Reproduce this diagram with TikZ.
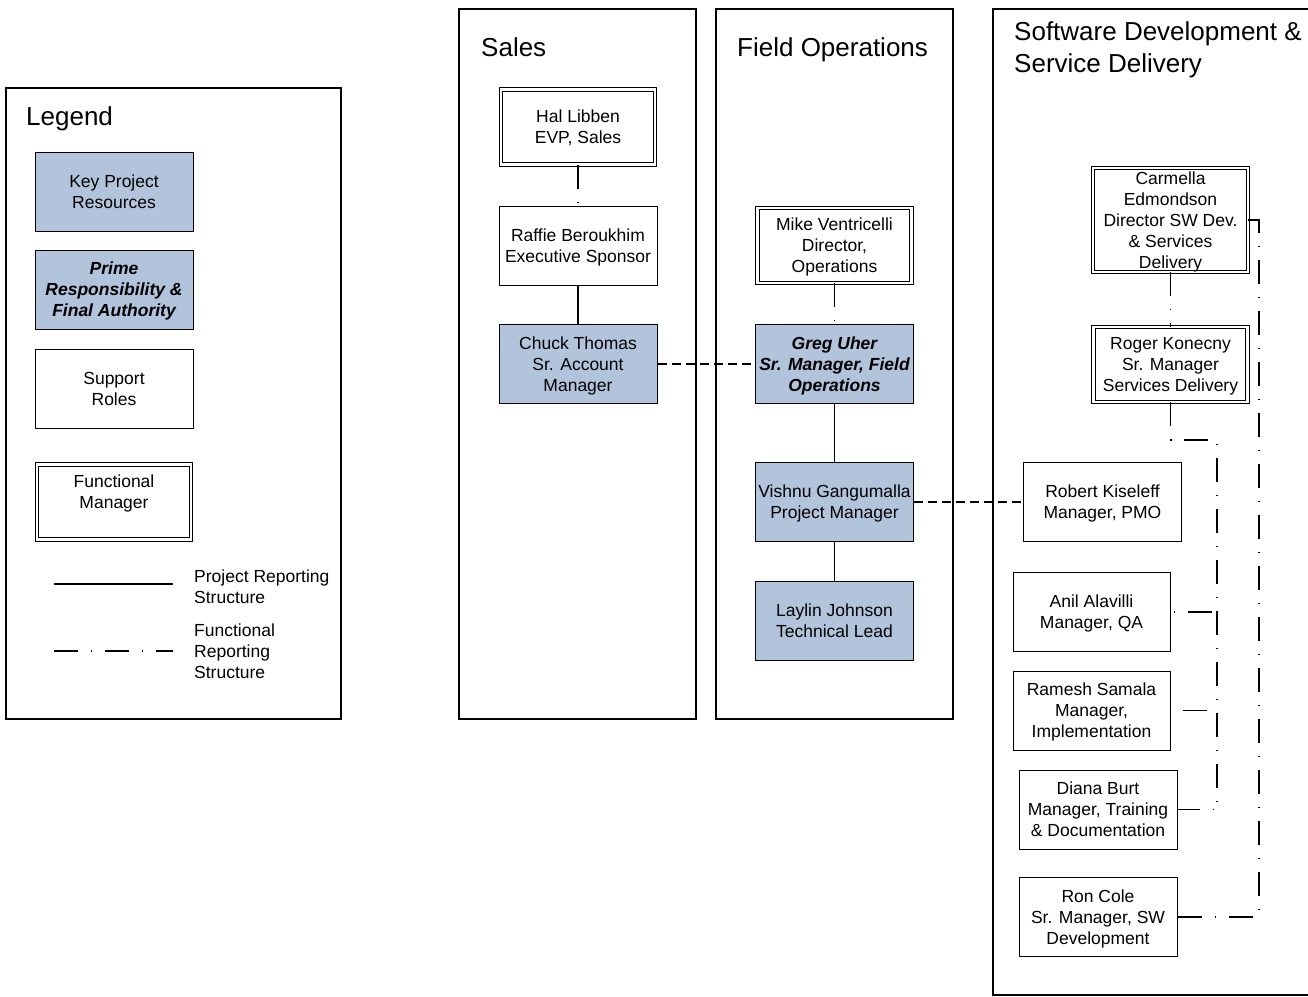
\documentclass[tikz,border=0pt]{standalone}
\usepackage{fontspec}
\setmainfont{Liberation Sans}
\definecolor{keyblue}{RGB}{178,195,220}
\begin{document}
\begin{tikzpicture}[x=1pt,y=-1pt,
  box/.style={draw=black, line width=1pt, minimum width=158pt, minimum height=79pt,
    inner sep=1pt, align=center, text depth=0pt, font=\fontsize{17.5}{21}\selectfont},
  key/.style={box, fill=keyblue},
  bi/.style={font=\fontsize{17.5}{21}\selectfont\bfseries\itshape},
  fmgr/.style={box, double, double distance=2.8pt, line width=0.95pt,
    minimum width=154pt, minimum height=75pt},
  proj/.style={line width=1.05pt},
  func/.style={line width=1.05pt, dash pattern=on 24pt off 13pt on 1pt off 13pt},
  liaison/.style={line width=1.05pt, dash pattern=on 9pt off 5pt},
  column/.style={draw=black, line width=1.05pt},
  title/.style={anchor=west, text depth=0pt, font=\fontsize{26}{32}\selectfont, align=left, inner sep=0pt},
  note/.style={anchor=west, align=left, text depth=0pt, inner sep=0pt, font=\fontsize{17.5}{21}\selectfont}]

\clip (0,0) rectangle (1308,996);
\fill[white] (0,0) rectangle (1308,996);

% frames: legend and the three departments
\draw[column] (6,88) rectangle (341,719);
\draw[column] (459,9) rectangle (696,719);
\draw[column] (716,9) rectangle (953,719);
\draw[column] (993,9) rectangle (1330,995);

\node[title] (tlegend) at (26,116.5) {Legend};
\node[title] (tsales) at (481,47.5) {Sales};
\node[title] (tfield) at (737,47.5) {Field Operations};
\node[title] (tsoft) at (1014,47) {Software Development \&\\Service Delivery};

% legend entries
\node[key] (kpr) at (114,191.5) {Key Project\\Resources};
\node[key, bi] (prime) at (114,289.5) {Prime\\Responsibility \&\\Final Authority};
\node[box] (sup) at (114,388.5) {Support\\Roles};
\node[fmgr] (fm) at (114,502) {Functional\\Manager\\\mbox{}};

\coordinate (pa) at (54,584);
\coordinate (pb) at (173,584);
\draw[proj] (pa) -- (pb);
\node[note] (plbl) at (194,586.5) {Project Reporting\\Structure};
\coordinate (fa) at (54,651);
\coordinate (fb) at (173,651);
\draw[func] (fa) -- (fb);
\node[note] (flbl) at (194,651) {Functional\\Reporting\\Structure};

% Sales
\node[fmgr] (hal) at (578,127) {Hal Libben\\EVP, Sales};
\node[box] (raffie) at (578,245.5) {Raffie Beroukhim\\Executive Sponsor};
\node[key] (chuck) at (578,364) {Chuck Thomas\\Sr. Account\\Manager};

% Field Operations
\node[fmgr] (mike) at (834.5,245.5) {Mike Ventricelli\\Director,\\Operations};
\node[key, bi] (greg) at (834.5,364) {Greg Uher\\Sr. Manager, Field\\Operations};
\node[key] (vishnu) at (834.5,502) {Vishnu Gangumalla\\Project Manager};
\node[key] (laylin) at (834.5,620.5) {Laylin Johnson\\Technical Lead};

% Software Development & Service Delivery
\node[fmgr, minimum width=155pt, minimum height=104pt] (carm) at (1170.5,220)
  {Carmella\\Edmondson\\Director SW Dev.\\\& Services\\Delivery};
\node[fmgr] (roger) at (1170.5,364.5) {Roger Konecny\\Sr. Manager\\Services Delivery};
\node[box] (robert) at (1102.5,502) {Robert Kiseleff\\Manager, PMO};
\node[box, minimum width=157pt] (anil) at (1091.5,612) {Anil Alavilli\\Manager, QA};
\node[box, minimum width=157pt] (ramesh) at (1091.5,710.5) {Ramesh Samala\\Manager,\\Implementation};
\node[box] (diana) at (1098,809.5) {Diana Burt\\Manager, Training\\\& Documentation};
\node[box] (ron) at (1098,917) {Ron Cole\\Sr. Manager, SW\\Development};

% reporting lines
\draw[func] (hal.south) -- (raffie.north);
\draw[proj] (raffie.south) -- (chuck.north);
\draw[liaison] (chuck.east) -- (greg.west);
\draw[func] (mike.south) -- (greg.north);
\draw[proj] (greg.south) -- (vishnu.north);
\draw[proj] (vishnu.south) -- (laylin.north);
\draw[liaison] (vishnu.east) -- (robert.west);
\draw[func] (carm.south) -- (roger.north);

\coordinate (bustop) at (1217,440);
\coordinate (busend) at (1217,810);
\draw[func] (roger.south) |- (bustop) -- (busend);
\draw[func, dash phase=34pt] (anil.east) -- (anil.east -| bustop);
\draw[func, dash phase=39pt] (ramesh.east) -- (ramesh.east -| bustop);
\draw[func, dash phase=2pt] (diana.east) -- (diana.east -| bustop);

\coordinate (rail) at (1259,220);
\draw[func] (carm.east) -- (carm.east -| rail) |- (ron.east);
\end{tikzpicture}
\end{document}
